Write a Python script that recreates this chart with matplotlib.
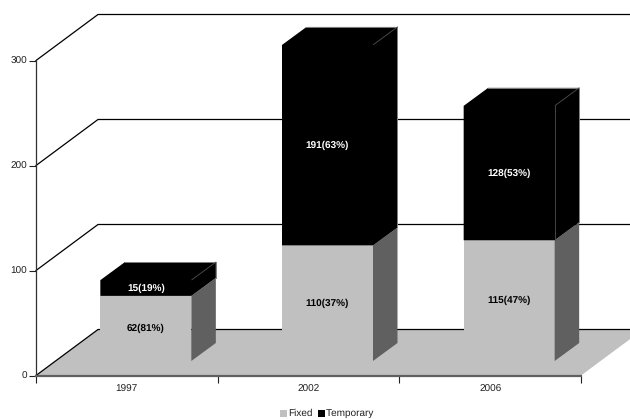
import matplotlib
matplotlib.use("Agg")
import matplotlib.pyplot as plt
from matplotlib.patches import Polygon, Rectangle

plt.rcParams['font.family'] = ['Liberation Sans', 'DejaVu Sans']
plt.rcParams['text.hinting'] = 'no_hinting'
plt.rcParams['text.hinting_factor'] = 1

years = ['1997', '2002', '2006']
fixed = [62, 110, 115]
temporary = [15, 191, 128]
fixed_labels = ['62(81%)', '110(37%)', '115(47%)']
temporary_labels = ['15(19%)', '191(63%)', '128(53%)']
y_ticks = [0, 100, 200, 300]

W, H = 630, 419
X0, X1 = 36.0, 581.0
Y0, Y300 = 375.5, 60.5

FLOOR_GREY = '#c0c0c0'
SIDE_GREY = '#606060'

fig = plt.figure(figsize=(W / 100, H / 100), dpi=100, facecolor='white')
ax = fig.add_axes([X0 / W, 1 - Y0 / H, (X1 - X0) / W, (Y0 - Y300) / H])
ax.set_xlim(0, len(years))
ax.set_ylim(0, 300)
ax.patch.set_visible(False)

# conversion of pixel lengths into data units for the oblique projection
ux = len(years) / (X1 - X0)
uy = 300 / (Y0 - Y300)
wall_dx, wall_dy = 62 * ux, 46 * uy
floor_dx, floor_dy = 19 * ux, 14.5 * uy
bar_dx, bar_dy = 24.5 * ux, 18 * uy
bar_w = 91 * ux


def poly(points, face, z=1):
    ax.add_patch(Polygon(points, closed=True, facecolor=face, edgecolor='none',
                         linewidth=0, zorder=z, clip_on=False))


# floor plane
poly([(0, 0), (wall_dx, wall_dy), (3 + wall_dx, wall_dy), (3, 0)], FLOOR_GREY, z=1)

# wall gridlines, running along the side wall and then across the back wall
for v in y_ticks:
    ax.plot([0, wall_dx, 3 + wall_dx], [v, v + wall_dy, v + wall_dy], color='black',
            lw=0.9, zorder=2, clip_on=False, solid_joinstyle='miter')

for i, (f, t) in enumerate(zip(fixed, temporary)):
    x = i + 0.5 - bar_w / 2 + floor_dx
    xr = x + bar_w
    base = floor_dy
    joint = base + f
    total = joint + t
    z = 3 + i

    # lower segment: front and shaded side
    poly([(x, base), (xr, base), (xr, joint), (x, joint)], FLOOR_GREY, z)
    poly([(xr, base), (xr + bar_dx, base + bar_dy), (xr + bar_dx, joint + bar_dy),
          (xr, joint)], SIDE_GREY, z)

    # upper segment: one black outline covering front, side and top
    poly([(x, joint), (xr, joint), (xr + bar_dx, joint + bar_dy),
          (xr + bar_dx, total + bar_dy), (x + bar_dx, total + bar_dy), (x, total)],
         'black', z)

    # thin grey outline on the dark segment's far edges
    ax.plot([x + bar_dx, xr + bar_dx, xr + bar_dx],
            [total + bar_dy, total + bar_dy, joint + bar_dy],
            color='#808080', lw=0.7, zorder=z, clip_on=False)
    ax.plot([xr + bar_dx * 0.02, xr + bar_dx], [total + bar_dy * 0.02, total + bar_dy],
            color='#505050', lw=0.6, zorder=z, clip_on=False)
    if years[i] == '2006':
        ax.plot([xr, xr], [joint, total], color='#505050', lw=0.6, zorder=z, clip_on=False)

    ax.text(x + bar_w / 2, base + f / 2, fixed_labels[i], ha='center', va='center',
            fontsize=7, fontweight='bold', color='black', zorder=10)
    ax.text(x + bar_w / 2, joint + t / 2, temporary_labels[i], ha='center', va='center',
            fontsize=7, fontweight='bold', color='white', zorder=10)

for s in ('top', 'right'):
    ax.spines[s].set_visible(False)
ax.spines['left'].set_color('#303030')
ax.spines['left'].set_linewidth(0.9)
ax.spines['bottom'].set_color('#606060')
ax.spines['bottom'].set_linewidth(1.6)
ax.spines['bottom'].set_zorder(2.5)

ax.set_yticks(y_ticks)
ax.set_xticks(range(len(years) + 1))
ax.set_xticklabels([''] * (len(years) + 1))
ax.tick_params(axis='y', length=5, width=0.8, labelsize=7, pad=1.5, colors='#202020')
ax.tick_params(axis='x', length=5, width=0.8, color='#202020')
for i, name in enumerate(years):
    ax.annotate(name, (i + 0.5, 0), xytext=(0, -13.5), textcoords='offset pixels',
                ha='center', va='center', fontsize=7, color='#202020', annotation_clip=False)

# legend row below the plot
swatches = [(280, 'Fixed', FLOOR_GREY), (318, 'Temporary', 'black')]
for px, name, colour in swatches:
    fig.add_artist(Rectangle((px / W, 1 - 417 / H), 7 / W, 7 / H, transform=fig.transFigure,
                             facecolor=colour, edgecolor='none'))
    fig.text((px + 8) / W, 1 - 413.5 / H, name, ha='left', va='center', fontsize=7.4, color='#202020')

fig.savefig('out.png', dpi=100)
